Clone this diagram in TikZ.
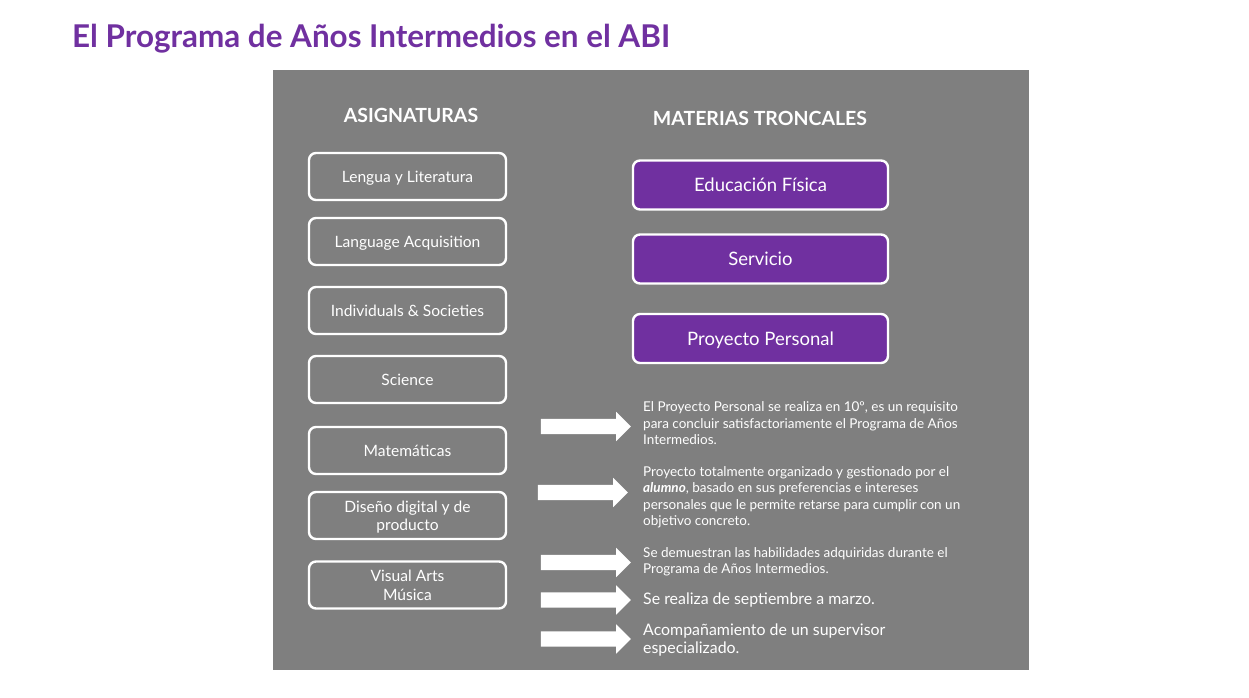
\documentclass[tikz,border=0pt]{standalone}
\usepackage{fontspec}
\setmainfont{Lato}
\usepackage{tikz}
\usetikzlibrary{shapes.geometric}
\usetikzlibrary{shapes.arrows}
\definecolor{abipurple}{HTML}{7030A0}
\definecolor{abigray}{HTML}{7F7F7F}

\begin{document}
\begin{tikzpicture}[x=1pt, y=-1pt,
		subj/.style={shape=rectangle, rounded corners=7pt, draw=white, line width=2.4pt, minimum width=197pt, minimum height=47pt, text=white, text depth=0pt, align=center, font=\fontsize{15.6}{18.5}\selectfont},
		core/.style={subj, fill=abipurple, minimum width=255pt, minimum height=49pt, font=\fontsize{18.5}{22}\selectfont},
		hdr/.style={text=white, inner sep=0pt, font=\fontsize{19.5}{23}\selectfont\bfseries},
		blockarrow/.style={single arrow, fill=white, minimum height=90pt, single arrow head extend=7pt, inner xsep=0pt, inner ysep=7.5pt, outer sep=0pt},
		note/.style={anchor=west, text=white, align=left, inner sep=0pt, font=\fontsize{13.5}{16.5}\selectfont},
		bignote/.style={note, font=\fontsize{15.9}{18}\selectfont}]
		\useasboundingbox (0, 0) rectangle (1249, 698);
		\fill[white] (0, 0) rectangle (1249, 698);
		% Title and panel:
		\node[anchor=west, inner sep=0pt, text=abipurple, font=\fontsize{31.4}{36}\selectfont\bfseries](TT) at (72, 39){El Programa de Años Intermedios en el ABI};
		\fill[abigray] (273, 70) rectangle (1029, 670);
		\node[hdr](H1) at (411, 115){ASIGNATURAS};
		\node[hdr](H2) at (760, 118){MATERIAS TRONCALES};
		% Asignaturas:
		\node[subj](S1) at (407.5, 176.5){Lengua y Literatura};
		\node[subj](S2) at (407.5, 241.5){Language Acquisition};
		\node[subj](S3) at (407.5, 310.5){Individuals \& Societies};
		\node[subj](S4) at (407.5, 379.5){Science};
		\node[subj](S5) at (407.5, 450.5){Matemáticas};
		\node[subj](S6) at (407.5, 515.5){Diseño digital y de\\producto};
		\node[subj](S7) at (407.5, 585){Visual Arts\\Música};
		% Materias troncales:
		\node[core](C1) at (760.5, 185){Educación Física};
		\node[core](C2) at (760.5, 259){Servicio};
		\node[core](C3) at (760.5, 338.5){Proyecto Personal};
		% Arrows and notes:
		\node[blockarrow](R1) at (582, 426.5){};
		\node[blockarrow](R2) at (579, 492.5){};
		\node[blockarrow](R3) at (582, 562.5){};
		\node[blockarrow](R4) at (582, 600){};
		\node[blockarrow](R5) at (582, 639){};
		\node[note](D1) at (643, 423.5){El Proyecto Personal se realiza en 10º, es un requisito\\para concluir satisfactoriamente el Programa de Años\\Intermedios.};
		\node[note](D2) at (643, 497.5){Proyecto totalmente organizado y gestionado por el\\\textbf{\textit{alumno}}, basado en sus preferencias e intereses\\personales que le permite retarse para cumplir con un\\objetivo concreto.};
		\node[note](D3) at (643, 562){Se demuestran las habilidades adquiridas durante el\\Programa de Años Intermedios.};
		\node[bignote](D4) at (643, 600){Se realiza de septiembre a marzo.};
		\node[bignote](D5) at (643, 640){Acompañamiento de un supervisor\\especializado.};
	\end{tikzpicture}
\end{document}
